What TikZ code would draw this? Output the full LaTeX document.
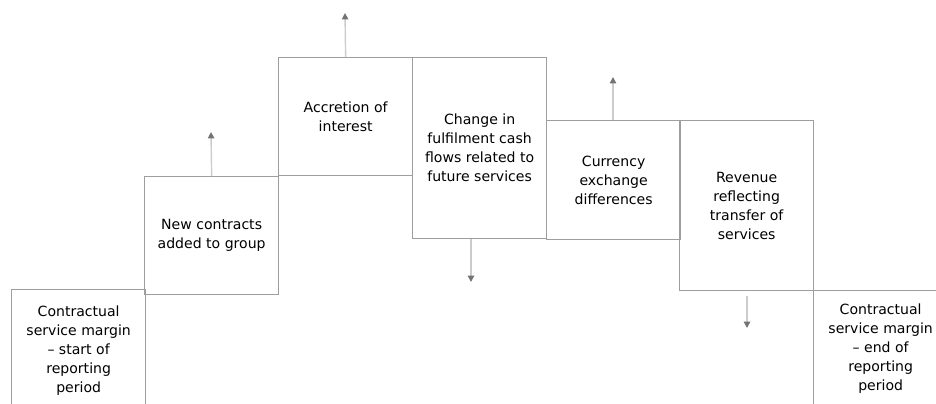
\documentclass[tikz,border=0pt]{standalone}
\usepackage{fontspec}
\setmainfont{DejaVu Sans}
\usetikzlibrary{arrows.meta,positioning}
\tikzset{%
	stage/.style = {draw=black!38, line width=0.9pt, rectangle, anchor=north west, minimum width=3.35cm, align=center, font=\fontsize{10}{13.5}\selectfont},
	arrow/.style = {draw=black!20, line width=1pt, -{Triangle[length=4.5pt,width=4.5pt,color=black!55]}},
}

\begin{document}
\begin{tikzpicture}[x=0.025cm, y=-0.025cm]
	\useasboundingbox (0,0) rectangle (936,403);
	\clip (0,0) rectangle (936,403);
	
	\node[stage, minimum height=3.05cm]  (start)    at (11,289)  {Contractual\\service margin\\– start of\\reporting\\period};
	\node[stage, minimum height=2.95cm]  (new)      at (144,176) {New contracts\\added to group};
	\node[stage, minimum height=2.95cm]  (accr)     at (278,57)  {Accretion of\\interest};
	\node[stage, minimum height=4.525cm] (change)   at (412,57)  {Change in\\fulfilment cash\\flows related to\\future services};
	\node[stage, minimum height=2.975cm] (currency) at (546,120) {Currency\\exchange\\differences};
	\node[stage, minimum height=4.25cm]  (revenue)  at (679,120) {Revenue\\reflecting\\transfer of\\services};
	\node[stage, minimum height=2.9cm]   (end)      at (813,290) {Contractual\\service margin\\– end of\\reporting\\period};
	
	\coordinate (newup) at (211,132);
	\coordinate (accrup) at (345,13);
	\coordinate (chgdown) at (471,282);
	\coordinate (curup) at (613,77);
	\coordinate (revdown) at (747,328);
	
	\draw[arrow] (new.north) -- (newup);
	\draw[arrow] (accr.north) -- (accrup);
	\draw[arrow] (change.south -| chgdown) -- (chgdown);
	\draw[arrow] (currency.north -| curup) -- (curup);
	\draw[arrow, shorten <=3pt] (revenue.south -| revdown) -- (revdown);
\end{tikzpicture}
\end{document}
